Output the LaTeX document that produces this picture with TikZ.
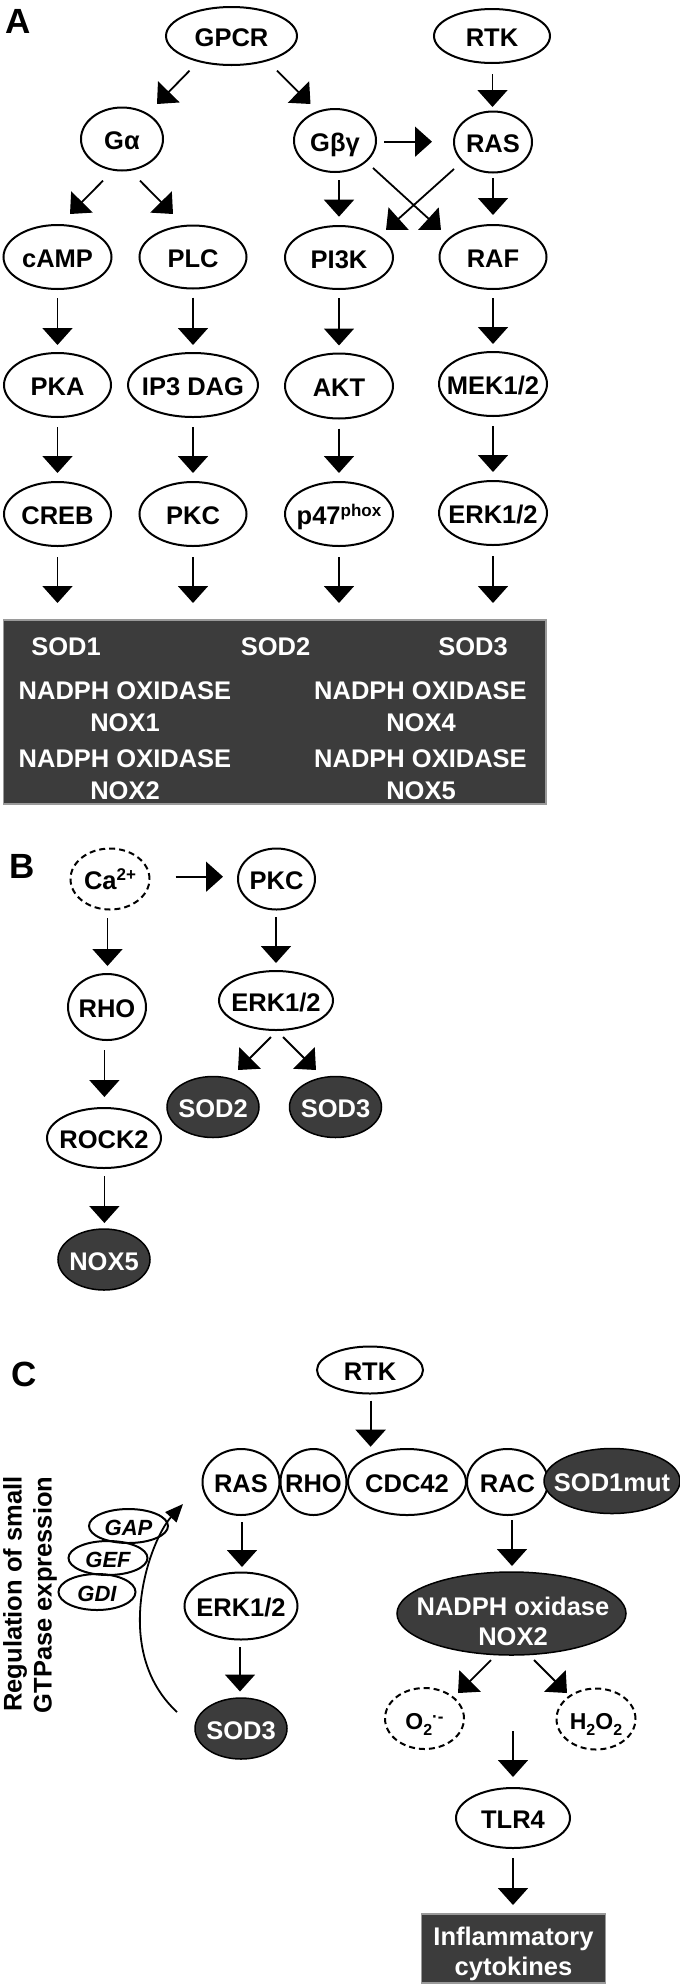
\documentclass[tikz,border=0pt]{standalone}
\usepackage{fontspec}
\setmainfont{Liberation Sans}
\usetikzlibrary{shapes.geometric,arrows.meta,calc}
\definecolor{dk}{HTML}{3C3C3C}
\definecolor{bordergray}{HTML}{9A9A9A}
\newcommand{\mysup}[2][9pt]{\raisebox{#1}{\fontsize{17}{17}\selectfont #2}}
\newcommand{\mysub}[2][-6pt]{\raisebox{#1}{\fontsize{16}{16}\selectfont #2}}
\begin{document}
\begin{tikzpicture}[x=1pt,y=-1pt,
  every node/.style={inner sep=0pt,outer sep=0pt,font=\fontsize{25.5}{30}\selectfont\bfseries},
  zw/.style={execute at begin node={\hbox to 0pt\bgroup\hss},execute at end node={\hss\egroup}},
  ell/.style={ellipse,draw=black,line width=2pt,text height=21pt,text depth=0pt,zw},
  dell/.style={ell,dash pattern=on 6pt off 4pt},
  dkell/.style={ellipse,draw=black,fill=dk,line width=1.5pt,text=white,text height=21pt,text depth=0pt,zw},
  sz/.style 2 args={minimum width=#1pt,minimum height=#2pt},
  wt/.style={text=white,text height=18.3pt,text depth=0pt},
  lbl/.style={font=\fontsize{35}{35}\selectfont\bfseries},
  arr/.style={line width=1.8pt,-{Triangle[length=17pt,width=30pt]}},
  smallell/.style={ell,font=\fontsize{22}{22}\selectfont\bfseries\itshape,text height=19pt},
  abox/.style={rectangle,fill=dk,draw=bordergray,line width=1.5pt}]
\useasboundingbox (0,0) rectangle (680,1984);

% ---------------- Panel A ----------------
\node[lbl] (labA) at (18,21) {A};
\node[ell,sz={131}{58}] (GPCR) at (231.5,36) {GPCR};
\node[ell,sz={116}{54}] (RTKa) at (492,36) {RTK};
\node[ell,sz={82}{63}] (Ga) at (122,139) {Gα};
\node[ell,sz={82}{63}] (Gbg) at (335,140.5) {Gβγ};
\node[ell,sz={78}{61}] (RASa) at (493,142) {RAS};
\node[ell,sz={108}{64}] (cAMP) at (57.5,257) {cAMP};
\node[ell,sz={107}{63}] (PLC) at (193,257) {PLC};
\node[ell,sz={108}{63}] (PI3K) at (339,257.5) {PI3K};
\node[ell,sz={107}{64}] (RAF) at (493,257) {RAF};
\node[ell,sz={107}{64}] (PKA) at (57.5,385) {PKA};
\node[ell,sz={130}{64}] (IP3) at (193,385) {IP3 DAG};
\node[ell,sz={108}{65}] (AKT) at (339,386) {AKT};
\node[ell,sz={108}{64}] (MEK) at (493,384) {MEK1/2};
\node[ell,sz={107}{64}] (CREB) at (57.5,514) {CREB};
\node[ell,sz={107}{64}] (PKCa) at (193,514) {PKC};
\node[ell,sz={108}{64}] (p47) at (339,514) {p47\mysup[8pt]{phox}};
\node[ell,sz={108}{64}] (ERKa) at (493,513) {ERK1/2};
\node[abox,sz={542.5}{184}] (box) at (274.75,712) {};
\node[wt] (sod1) at (66,646) {SOD1};
\node[wt] (sod2) at (275.5,646) {SOD2};
\node[wt] (sod3) at (473,646) {SOD3};
\node[wt] (nadph1) at (125,690.5) {NADPH OXIDASE};
\node[wt] (nox1) at (125,722) {NOX1};
\node[wt] (nadph2) at (125,758) {NADPH OXIDASE};
\node[wt] (nox2) at (125,790) {NOX2};
\node[wt] (nadph4) at (420.5,690.5) {NADPH OXIDASE};
\node[wt] (nox4) at (421,722) {NOX4};
\node[wt] (nadph5) at (420.5,758) {NADPH OXIDASE};
\node[wt] (nox5) at (421,790) {NOX5};

\draw[arr] ($(GPCR)+(-42,34.7)$) -- ($(Ga)+(35,-35)$);
\draw[arr] ($(GPCR)+(45.5,34.7)$) -- ($(Gbg)+(-24.5,-36.5)$);
\draw[arr] ($(RTKa)+(0.5,38)$) -- ($(RASa)+(-0.5,-35)$);
\draw[arr] ($(Gbg)+(49,1.2)$) -- ($(RASa)+(-61,-0.3)$);
\draw[arr] ($(Ga)+(-19,41.7)$) -- ($(cAMP)+(12.5,-43)$);
\draw[arr] ($(Ga)+(18,41.7)$) -- ($(PLC)+(-20,-43)$);
\draw[arr] ($(Gbg)+(4,39.5)$) -- ($(PI3K)+(0,-40.8)$);
\draw[arr] ($(Gbg)+(38,27.5)$) -- ($(RAF)+(-52,-27)$);
\draw[arr] ($(RASa)+(-39,27)$) -- ($(PI3K)+(47,-27.5)$);
\draw[arr] ($(RASa)+(0,36)$) -- ($(RAF)+(0,-42)$);
\foreach \a/\b in {cAMP/PKA,PLC/IP3,PI3K/AKT,RAF/MEK}
  \draw[arr] ($(\a.south)+(0,9)$) -- ($(\b.north)+(0,-8)$);
\foreach \a/\b in {PKA/CREB,IP3/PKCa,AKT/p47,MEK/ERKa}
  \draw[arr] ($(\a.south)+(0,10)$) -- ($(\b.north)+(0,-9)$);
\foreach \a in {CREB,PKCa,p47,ERKa}
  \draw[arr] ($(\a.south)+(0,11)$) -- ($(\a.south |- box.north)+(0,-17)$);

% ---------------- Panel B ----------------
\node[lbl] (labB) at (22,866) {B};
\node[dell,sz={79}{61}] (Ca) at (110,879) {Ca\mysup{2+}};
\node[ell,sz={77}{61}] (PKCb) at (276.5,879) {PKC};
\node[ell,sz={78}{66}] (RHOb) at (107,1007) {RHO};
\node[ell,sz={114}{59}] (ERKb) at (276,1000.5) {ERK1/2};
\node[dkell,sz={92}{61}] (SOD2b) at (213,1107) {SOD2};
\node[dkell,sz={92}{61}] (SOD3b) at (335.5,1107) {SOD3};
\node[ell,sz={114}{60}] (ROCK2) at (104,1138) {ROCK2};
\node[dkell,sz={92}{61}] (NOX5b) at (104,1259.5) {NOX5};

\draw[arr] ($(Ca.east)+(26,-2.3)$) -- ($(PKCb.west)+(-15,-2.3)$);
\draw[arr] ($(Ca.south)+(-2.5,8.5)$) -- ($(RHOb.north)+(0.5,-8)$);
\draw[arr] ($(PKCb.south)+(-0.5,7.5)$) -- ($(ERKb.north)+(0,-8)$);
\draw[arr] ($(ERKb)+(-5,36.5)$) -- ($(SOD2b)+(25,-37)$);
\draw[arr] ($(ERKb)+(7,36.5)$) -- ($(SOD3b)+(-19.5,-37)$);
\draw[arr] ($(RHOb.south)+(-2.6,10)$) -- ($(ROCK2.north)+(0.4,-11)$);
\draw[arr] ($(ROCK2.south)+(0.4,8)$) -- ($(NOX5b.north)+(0.4,-6)$);

% ---------------- Panel C ----------------
\node[lbl] (labC) at (24,1374) {C};
\node[ell,sz={106}{47}] (RTKc) at (370,1370) {RTK};
\node[ell,sz={77}{66}] (RASc) at (241,1482) {RAS};
\node[ell,sz={66}{66}] (RHOc) at (313.5,1482) {RHO};
\node[ell,sz={118}{66}] (CDC42) at (407,1482) {CDC42};
\node[ell,sz={81}{66}] (RAC) at (507.5,1482) {RAC};
\node[dkell,sz={136}{65}] (SOD1mut) at (612,1481) {SOD1mut};
\node[ell,sz={113}{67}] (ERKc) at (241,1606) {ERK1/2};
\node[dkell,sz={229}{83}] (NADPH) at (511.5,1613.5) {};
\node[wt] (nadphC) at (513,1606) {NADPH oxidase};
\node[wt] (nox2C) at (513,1636) {NOX2};
\node[dkell,sz={92}{61}] (SOD3c) at (241,1728.5) {SOD3};
\node[smallell,sz={79}{34}] (GAP) at (128.5,1526) {GAP};
\node[smallell,sz={79}{34}] (GEF) at (108,1558) {GEF};
\node[smallell,sz={77}{36}] (GDI) at (97,1592) {GDI};
\node[dell,sz={79}{61},font=\fontsize{23}{23}\selectfont\bfseries] (O2) at (424.5,1718.5) {O\mysub[-6pt]{2}\mysup[7pt]{·-}};
\node[dell,sz={79}{61},font=\fontsize{23}{23}\selectfont\bfseries] (H2O2) at (596,1719) {H\mysub{2}O\mysub{2}};
\node[ell,sz={114}{60}] (TLR4) at (513,1818) {TLR4};
\node[abox,sz={184}{69}] (cytbox) at (513.5,1948.5) {};
\node[text=white,anchor=base] (infl) at (513.5,1945) {Inflammatory};
\node[text=white,anchor=base] (cyto) at (513.5,1975) {cytokines};
\node[rotate=90,anchor=base] (reg1) at (21.5,1594) {Regulation of small};
\node[rotate=90,anchor=base] (reg2) at (51.5,1595) {GTPase expression};

\coordinate (rtkend) at (370.6,1446.7);
\coordinate (ros) at (513,1731);
\coordinate (cs) at (177,1712);
\coordinate (ce) at (183,1504);

\draw[arr] ($(RTKc.south)+(0.6,7)$) -- (rtkend);
\draw[arr] ($(RASc.south)+(1,7)$) -- ($(ERKc.north)+(1,-5.5)$);
\draw[arr] ($(RAC.south)+(4.5,5)$) -- ($(NADPH.north)+(0.5,-6)$);
\draw[arr] ($(ERKc.south)+(-1,7.5)$) -- ($(SOD3c.north)+(-1,-6.5)$);
\draw[arr] ($(NADPH)+(-20.5,46.5)$) -- ($(O2)+(33.5,-25.5)$);
\draw[arr] ($(NADPH)+(22.5,46.5)$) -- ($(H2O2)+(-29,-26)$);
\draw[arr] (ros) -- ($(TLR4.north)+(0,-11)$);
\draw[arr] ($(TLR4.south)+(0,10)$) -- ($(cytbox.north)+(-0.5,-9)$);
\draw[line width=1.8pt,-{Triangle[length=18pt,width=15pt]}] (cs) .. controls (110,1650) and (150,1540) .. (ce);
\end{tikzpicture}
\end{document}
